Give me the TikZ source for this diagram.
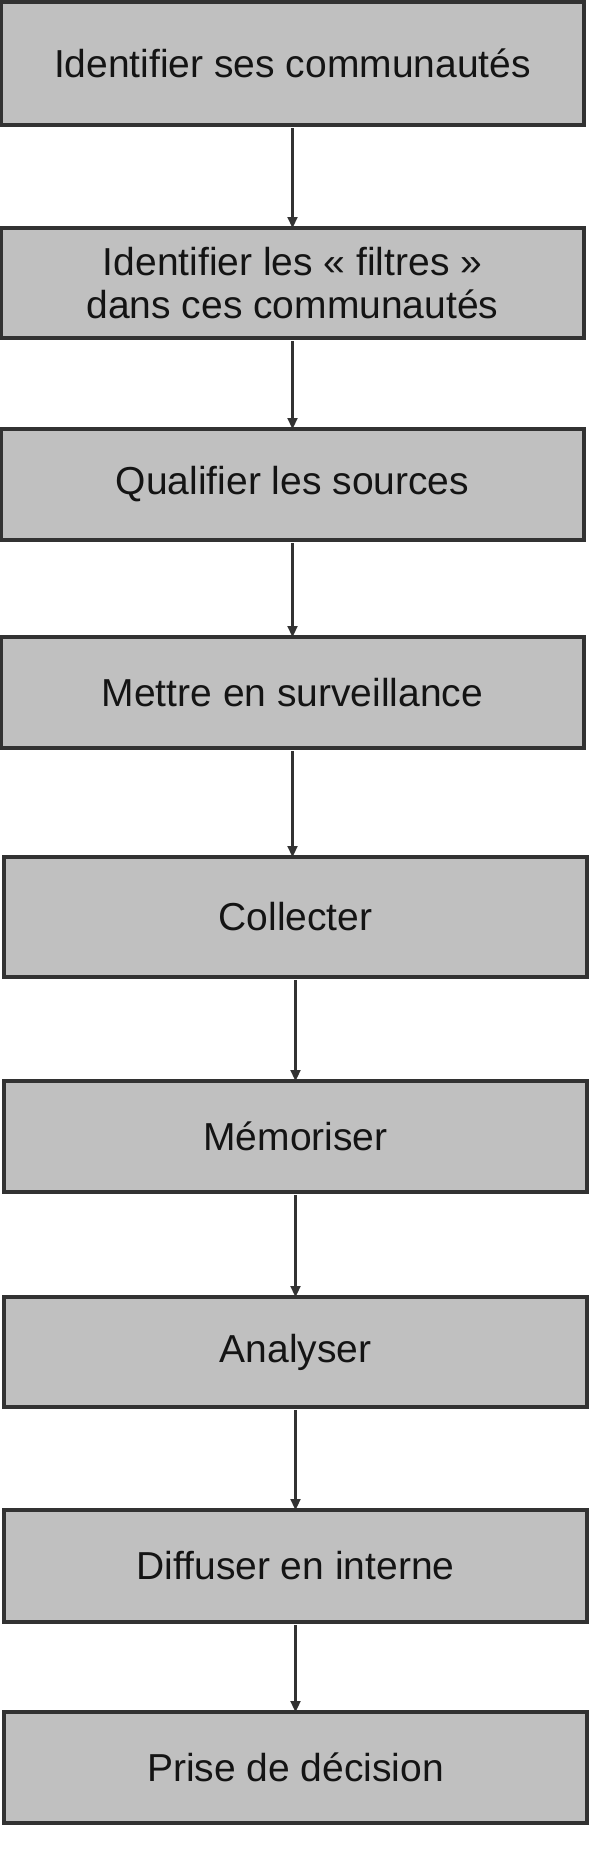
\documentclass[tikz,border=0pt]{standalone}
\usepackage{fontspec}
\setmainfont{Liberation Sans}
\usepackage{xcolor}
\usetikzlibrary{positioning,calc,arrows.meta}

\definecolor{boxgray}{RGB}{192,192,192}
\definecolor{edgegray}{RGB}{50,50,50}
\definecolor{inkgray}{RGB}{20,20,20}

\tikzset{
    stepbox/.style={rectangle, draw=edgegray, line width=3.2pt, fill=boxgray,
        minimum width=583pt, inner sep=0pt, outer sep=0pt, align=center,
        text=inkgray, font=\fontsize{39}{43}\selectfont},
    flow/.style={draw=edgegray, line width=2.2pt, shorten <=3pt,
        -{Triangle[length=11pt,width=10pt]}}
}

\begin{document}
\begin{tikzpicture}[x=1pt,y=-1pt]
    \useasboundingbox (0,0) rectangle (600,1855);

    % Steps of the watch process, top to bottom
    \foreach \x/\y/\h/\txt [count=\i] in {
        292.5/63.5/123/{Identifier ses communautés},
        292.5/283/110/{Identifier les « filtres »\\dans ces communautés},
        292.5/484.5/111/{Qualifier les sources},
        292.5/692.5/111/{Mettre en surveillance},
        295.5/917/120/{Collecter},
        295.5/1136.5/111/{Mémoriser},
        295.5/1352/110/{Analyser},
        295.5/1566/112/{Diffuser en interne},
        295.5/1767.5/111/{Prise de décision}}
        \node[stepbox, minimum height=\h pt] (b\i) at (\x,\y) {\txt};

    % Arrows between consecutive steps
    \foreach \i [evaluate=\i as \j using int(\i+1)] in {1,...,8}
        \draw[flow] (b\i.south) -- (b\i.south |- b\j.north);
\end{tikzpicture}
\end{document}
